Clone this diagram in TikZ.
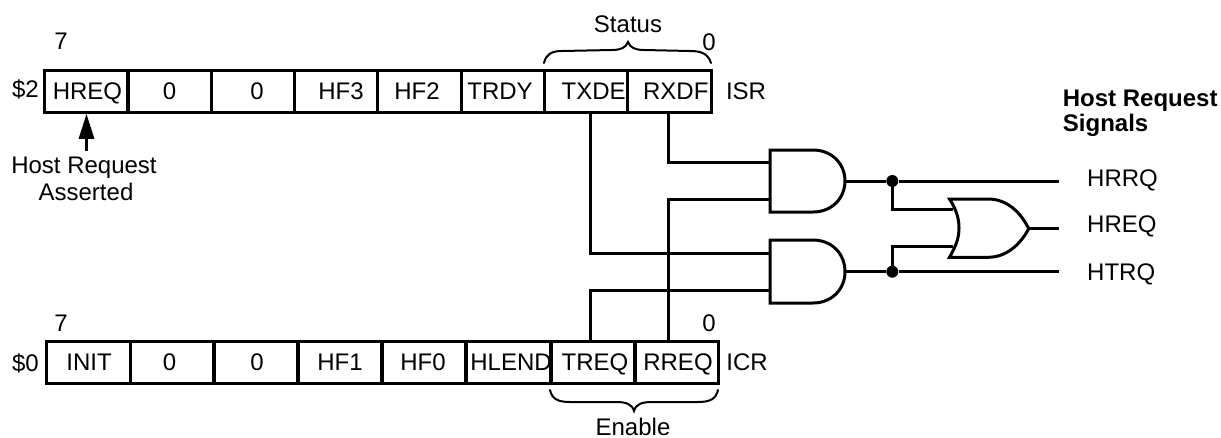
\documentclass[tikz,border=0pt]{standalone}
\usepackage{fontspec}
\setmainfont{Liberation Sans}
\usetikzlibrary{arrows.meta}
\tikzset{
  cellbox/.style={draw=black,line width=3pt,inner sep=0pt,minimum height=42pt,anchor=center},
  wbox/.style={cellbox,minimum width=83.3pt},
  txt/.style={inner sep=0pt,anchor=base,text=black,font=\fontsize{24}{28}\selectfont},
  boldtxt/.style={inner sep=0pt,anchor=base west,text=black,font=\fontsize{24}{28}\selectfont\bfseries},
  wire/.style={line width=3pt,line join=miter},
  gate/.style={line width=3pt,line join=miter},
  dotn/.style={circle,fill=black,inner sep=0pt,minimum size=12pt},
  bracepath/.style={line width=2pt,line cap=round},
  ptr/.style={line width=3pt,-{Triangle[length=25pt,width=15pt]}}
}
\begin{document}
\begin{tikzpicture}[x=1pt,y=-1pt]
\useasboundingbox (0,0) rectangle (1221,437);
% ISR register
\node[wbox] (a7) at (86.3,91.3) {};
\node[wbox] (a6) at (169.8,91.3) {};
\node[wbox] (a5) at (253,91.3) {};
\node[wbox] (a4) at (336.3,91.3) {};
\node[wbox] (a3) at (419.6,91.3) {};
\node[wbox] (a2) at (502.9,91.3) {};
\node[wbox] (a1) at (586.2,91.3) {};
\node[wbox] (a0) at (669.5,91.3) {};
\node[txt] (ta7) at (87.5,99) {HREQ};
\node[txt] (ta6) at (169.5,99) {0};
\node[txt] (ta5) at (257,99) {0};
\node[txt] (ta4) at (341,99) {HF3};
\node[txt] (ta3) at (417,99) {HF2};
\node[txt] (ta2) at (500,99) {TRDY};
\node[txt] (ta1) at (593.7,99) {TXDE};
\node[txt] (ta0) at (675.8,99) {RXDF};
\node[txt] (isr) at (746,99) {ISR};
\node[txt] (d2) at (25.5,97.5) {\$2};
\node[txt] (s7a) at (61,49.5) {7};
\node[txt] (s0a) at (709,50) {0};
\node[txt] (status) at (628,32) {Status};
\node[txt] (hr1) at (84,173) {Host Request};
\node[txt] (hr2) at (86,200.7) {Asserted};
% ICR register
\node[wbox] (b7) at (88.4,362.3) {};
\node[wbox] (b6) at (172.3,362.3) {};
\node[wbox] (b5) at (256.1,362.3) {};
\node[wbox] (b4) at (340,362.3) {};
\node[wbox] (b3) at (424,362.3) {};
\node[wbox] (b2) at (508.5,362.3) {};
\node[wbox] (b1) at (593.3,362.3) {};
\node[wbox] (b0) at (677.3,362.3) {};
\node[txt] (tb7) at (89,370.7) {INIT};
\node[txt] (tb6) at (169.5,370.7) {0};
\node[txt] (tb5) at (257,370.7) {0};
\node[txt] (tb4) at (340,370.7) {HF1};
\node[txt] (tb3) at (423,370.7) {HF0};
\node[txt] (tb2) at (511,370.7) {HLEND};
\node[txt] (tb1) at (595,370.7) {TREQ};
\node[txt] (tb0) at (678,370.7) {RREQ};
\node[txt] (icr) at (747,370.7) {ICR};
\node[txt] (d0) at (25.5,371) {\$0};
\node[txt] (s7b) at (61,331.7) {7};
\node[txt] (s0b) at (709,331.7) {0};
\node[txt] (enable) at (633,435) {Enable};
% arrow
\coordinate (arrowtail) at (86.5,151);
\draw[ptr] (arrowtail) -- (arrowtail |- a7.south);
% braces
\draw[bracepath] (544,63) .. controls (546,54) and (552,51) .. (562,51) -- (612,50)
  .. controls (620,50) and (626,48) .. (628,42)
  .. controls (630,48) and (636,50) .. (644,50) -- (690,51)
  .. controls (702,51) and (708,54) .. (711,63);
\draw[bracepath] (550,390) .. controls (552,399) and (558,402) .. (570,402) -- (616,402)
  .. controls (626,402) and (632,404) .. (634,411)
  .. controls (636,404) and (642,402) .. (652,402) -- (698,402)
  .. controls (710,402) and (716,399) .. (718,390);
% gates
\coordinate (g1a) at (770,162);
\coordinate (g1b) at (770,199);
\coordinate (g1o) at (845,181);
\coordinate (g2a) at (770,253.3);
\coordinate (g2b) at (770,290);
\coordinate (g2o) at (845,271.7);
\coordinate (g3a) at (953,209.3);
\coordinate (g3b) at (953,246.7);
\coordinate (g3o) at (1028.7,228.7);
\draw[gate] (813,150) -- (770,150) -- (770,212) -- (813,212)
  .. controls (832,212) and (845,198) .. (845,181)
  .. controls (845,164) and (832,150) .. (813,150) -- cycle;
\draw[gate] (813,240) -- (770,240) -- (770,303) -- (813,303)
  .. controls (832,303) and (845,289) .. (845,271.7)
  .. controls (845,254) and (832,240) .. (813,240) -- cycle;
\draw[gate] (949.5,199) -- (988,199)
  .. controls (1006,199) and (1020,211) .. (1028.7,228.7)
  .. controls (1020,245) and (1006,257.3) .. (988,257.3)
  -- (949.5,257.3) .. controls (956,246) and (959,238) .. (959,228)
  .. controls (959,218) and (956,209) .. (949.5,199) -- cycle;
% junctions and outputs
\node[dotn] (j1) at (892.3,181) {};
\node[dotn] (j2) at (892.3,271.7) {};
\coordinate (hrrqend) at (1059,181);
\coordinate (hreqend) at (1059,228.7);
\coordinate (htrqend) at (1059,271.7);
\node[txt,anchor=base west] (hrrq) at (1087,186.7) {HRRQ};
\node[txt,anchor=base west] (hreq) at (1087,232.7) {HREQ};
\node[txt,anchor=base west] (htrq) at (1087,280) {HTRQ};
\node[boldtxt] (title1) at (1062.7,106) {Host Request};
\node[boldtxt] (title2) at (1062.7,131.7) {Signals};
% wires
\coordinate (txdeo) at (590.3,112.7);
\coordinate (rxdfo) at (668.3,112.7);
\coordinate (treqo) at (590.3,341.5);
\coordinate (rreqo) at (668.7,341.5);
\draw[wire] (txdeo) |- (g2a);
\draw[wire] (rxdfo) |- (g1a);
\draw[wire] (treqo) |- (g2b);
\draw[wire] (rreqo) |- (g1b);
\draw[wire] (g1o) -- (j1) -- (hrrqend);
\draw[wire] (g2o) -- (j2) -- (htrqend);
\draw[wire] (j1) |- (g3a);
\draw[wire] (j2) |- (g3b);
\draw[wire] (g3o) -- (hreqend);
\end{tikzpicture}
\end{document}
